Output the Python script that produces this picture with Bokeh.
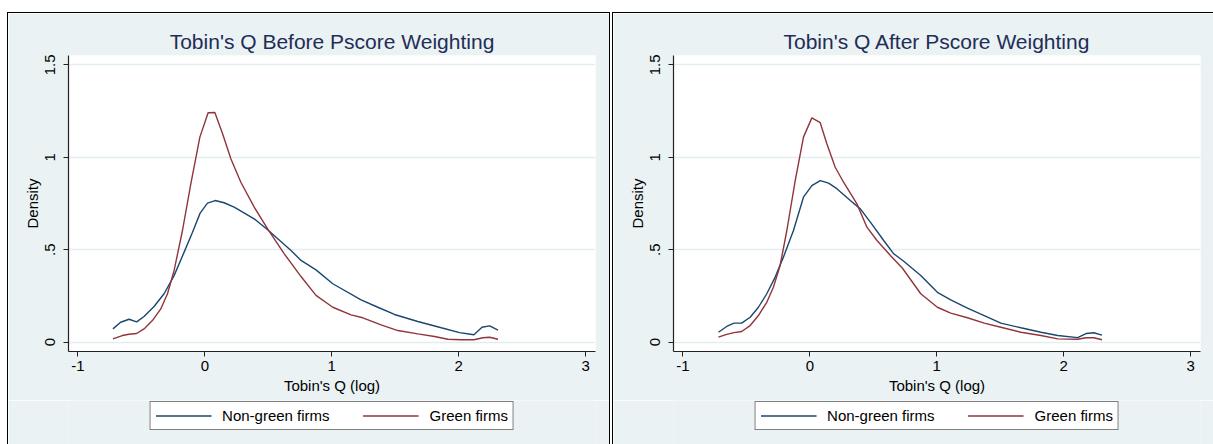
from bokeh.plotting import figure
from bokeh.models import Range1d, Legend, LegendItem, Spacer
from bokeh.layouts import row, column
from bokeh.embed import file_html
from bokeh.resources import INLINE

# ---------------- data ----------------
TITLE_BEFORE = "Tobin's Q Before Pscore Weighting"
TITLE_AFTER = "Tobin's Q After Pscore Weighting"
X_LABEL = "Tobin's Q (log)"
Y_LABEL = "Density"
SERIES_NAMES = ["Non-green firms", "Green firms"]
X_TICKS = [-1, 0, 1, 2, 3]
Y_TICKS = [0, 0.5, 1, 1.5]
Y_TICK_LABELS = ["0", ".5", "1", "1.5"]

before_nongreen_x = [-0.724, -0.663, -0.597, -0.537, -0.479, -0.40, -0.321, -0.242, -0.163,
                     -0.097, -0.037, 0.021, 0.081, 0.152, 0.231, 0.389, 0.495, 0.679, 0.758,
                     0.876, 1.008, 1.231, 1.363, 1.494, 1.678, 1.863, 2.007, 2.12, 2.184,
                     2.244, 2.31]
before_nongreen_y = [0.072, 0.108, 0.124, 0.110, 0.139, 0.193, 0.262, 0.360, 0.487,
                     0.595, 0.698, 0.752, 0.766, 0.754, 0.730, 0.667, 0.608, 0.496, 0.442,
                     0.391, 0.316, 0.229, 0.189, 0.150, 0.112, 0.078, 0.052, 0.040, 0.081,
                     0.088, 0.065]

before_green_x = [-0.724, -0.65, -0.597, -0.537, -0.479, -0.413, -0.347, -0.294, -0.242,
                  -0.176, -0.11, -0.039, 0.026, 0.079, 0.14, 0.205, 0.284, 0.389, 0.495,
                  0.626, 0.758, 0.876, 1.008, 1.152, 1.245, 1.389, 1.521, 1.678, 1.81,
                  1.915, 2.02, 2.12, 2.192, 2.244, 2.31]
before_green_y = [0.018, 0.036, 0.043, 0.047, 0.072, 0.117, 0.180, 0.262, 0.388,
                  0.604, 0.857, 1.109, 1.241, 1.242, 1.127, 0.992, 0.865, 0.730, 0.613,
                  0.478, 0.355, 0.253, 0.189, 0.148, 0.132, 0.094, 0.063, 0.045, 0.031,
                  0.016, 0.013, 0.013, 0.024, 0.027, 0.016]

after_nongreen_x = [-0.72, -0.655, -0.597, -0.537, -0.47, -0.405, -0.339, -0.273, -0.208,
                    -0.129, -0.05, 0.016, 0.082, 0.148, 0.213, 0.319, 0.398, 0.477, 0.582,
                    0.661, 0.74, 0.874, 1.005, 1.11, 1.242, 1.374, 1.505, 1.663, 1.821,
                    1.953, 2.11, 2.176, 2.237, 2.302]
after_nongreen_y = [0.054, 0.085, 0.103, 0.103, 0.135, 0.189, 0.262, 0.352, 0.460,
                    0.604, 0.784, 0.847, 0.874, 0.860, 0.830, 0.766, 0.721, 0.649, 0.550,
                    0.478, 0.438, 0.361, 0.270, 0.229, 0.184, 0.144, 0.103, 0.078, 0.054,
                    0.036, 0.025, 0.047, 0.051, 0.038]

after_green_x = [-0.72, -0.655, -0.597, -0.537, -0.47, -0.405, -0.339, -0.287, -0.234,
                 -0.181, -0.115, -0.05, 0.016, 0.082, 0.134, 0.2, 0.266, 0.371, 0.45,
                 0.529, 0.635, 0.73, 0.874, 1.005, 1.11, 1.242, 1.374, 1.505, 1.663,
                 1.821, 1.953, 2.11, 2.176, 2.237, 2.302]
after_green_y = [0.027, 0.042, 0.052, 0.058, 0.090, 0.144, 0.216, 0.297, 0.415,
                 0.604, 0.874, 1.109, 1.213, 1.187, 1.073, 0.946, 0.865, 0.748, 0.622,
                 0.550, 0.469, 0.400, 0.262, 0.189, 0.157, 0.132, 0.103, 0.081, 0.054,
                 0.036, 0.018, 0.016, 0.024, 0.024, 0.013]

# ---------------- styling ----------------
FONT = "Liberation Sans"
PANEL_BG = "#eaf2f3"
GRID = "#e4edf0"
NAVY = "#1a476f"
MAROON = "#90353b"
TITLE_COLOR = "#1f2d57"
PANEL_H = 431
MAIN_BOTTOM = 49
MAIN_H = 42 + 296 + MAIN_BOTTOM


def make_panel(title, xn, yn, xg, yg, total_w):
    right = total_w - 60 - 527
    p = figure(frame_width=527, frame_height=296,
               min_border_left=60, min_border_right=right,
               min_border_top=42, min_border_bottom=MAIN_BOTTOM,
               x_range=Range1d(-1.074, 3.078), y_range=Range1d(-0.0503, 1.5503),
               output_backend="svg", toolbar_location=None, title=title)
    p.background_fill_color = "white"
    p.border_fill_color = PANEL_BG
    p.outline_line_color = None

    p.title.align = "center"
    p.title.text_font = FONT
    p.title.text_font_size = "21px"
    p.title.text_font_style = "normal"
    p.title.text_color = TITLE_COLOR
    p.title.standoff = 6

    p.xgrid.grid_line_color = None
    p.ygrid.grid_line_color = GRID
    p.ygrid.grid_line_width = 1.5
    p.ygrid.ticker = Y_TICKS

    p.xaxis.ticker = X_TICKS
    p.xaxis.major_label_overrides = {t: str(t) for t in X_TICKS}
    p.yaxis.ticker = Y_TICKS
    p.yaxis.major_label_overrides = dict(zip(Y_TICKS, Y_TICK_LABELS))
    p.yaxis.major_label_orientation = "vertical"
    p.xaxis.axis_label = X_LABEL
    p.yaxis.axis_label = Y_LABEL

    for ax in (p.xaxis[0], p.yaxis[0]):
        ax.axis_line_color = "#222222"
        ax.axis_line_width = 1.2
        ax.major_tick_line_color = "#222222"
        ax.major_tick_out = 5
        ax.major_tick_in = 0
        ax.minor_tick_line_color = None
        ax.major_label_text_font = FONT
        ax.major_label_text_font_size = "15px"
        ax.major_label_text_color = "black"
        ax.axis_label_text_font = FONT
        ax.axis_label_text_font_size = "15px"
        ax.axis_label_text_font_style = "normal"
        ax.axis_label_text_color = "black"
    p.xaxis.major_label_standoff = 4
    p.xaxis.axis_label_standoff = 3
    p.yaxis.major_label_standoff = 8
    p.yaxis.axis_label_standoff = 2

    p.line(xn, yn, line_color=NAVY, line_width=1.4)
    p.line(xg, yg, line_color=MAROON, line_width=1.4)

    # legend strip below the plot (its own frame, so the legend is not clipped);
    # its y range lies far above the data, so the key lines themselves stay hidden
    leg_h = PANEL_H - MAIN_H
    q = figure(frame_width=527, frame_height=leg_h,
               min_border_left=60, min_border_right=right,
               min_border_top=0, min_border_bottom=0,
               x_range=Range1d(-1.074, 3.078), y_range=Range1d(10, 11),
               x_axis_location=None, y_axis_location=None,
               output_backend="svg", toolbar_location=None)
    q.grid.visible = False
    q.background_fill_color = PANEL_BG
    q.border_fill_color = PANEL_BG
    q.outline_line_color = None
    k1 = q.line(xn, yn, line_color=NAVY, line_width=1.4)
    k2 = q.line(xg, yg, line_color=MAROON, line_width=1.4)
    legend = Legend(items=[LegendItem(label=SERIES_NAMES[0], renderers=[k1]),
                           LegendItem(label=SERIES_NAMES[1], renderers=[k2])],
                    location="top_center", orientation="horizontal",
                    glyph_width=56, glyph_height=15, label_height=15,
                    label_standoff=11, spacing=33, padding=5, margin=1,
                    label_text_font=FONT, label_text_font_size="15px",
                    label_text_color="black",
                    border_line_color="black", border_line_width=1,
                    background_fill_color="white", background_fill_alpha=1)
    q.add_layout(legend)
    return column(p, q)


def black(w, h):
    return Spacer(width=w, height=h, styles={"background-color": "black"})


panel1 = make_panel(TITLE_BEFORE, before_nongreen_x, before_nongreen_y,
                    before_green_x, before_green_y, 601)
panel2 = make_panel(TITLE_AFTER, after_nongreen_x, after_nongreen_y,
                    after_green_x, after_green_y, 600)

layout = column(
    Spacer(width=1213, height=12),
    row(Spacer(width=7, height=1), black(603, 1), Spacer(width=2, height=1), black(601, 1)),
    row(Spacer(width=7, height=PANEL_H), black(1, PANEL_H), panel1, black(1, PANEL_H),
        Spacer(width=2, height=PANEL_H), black(1, PANEL_H), panel2),
)

open("out.html", "w").write(file_html(layout, INLINE))
